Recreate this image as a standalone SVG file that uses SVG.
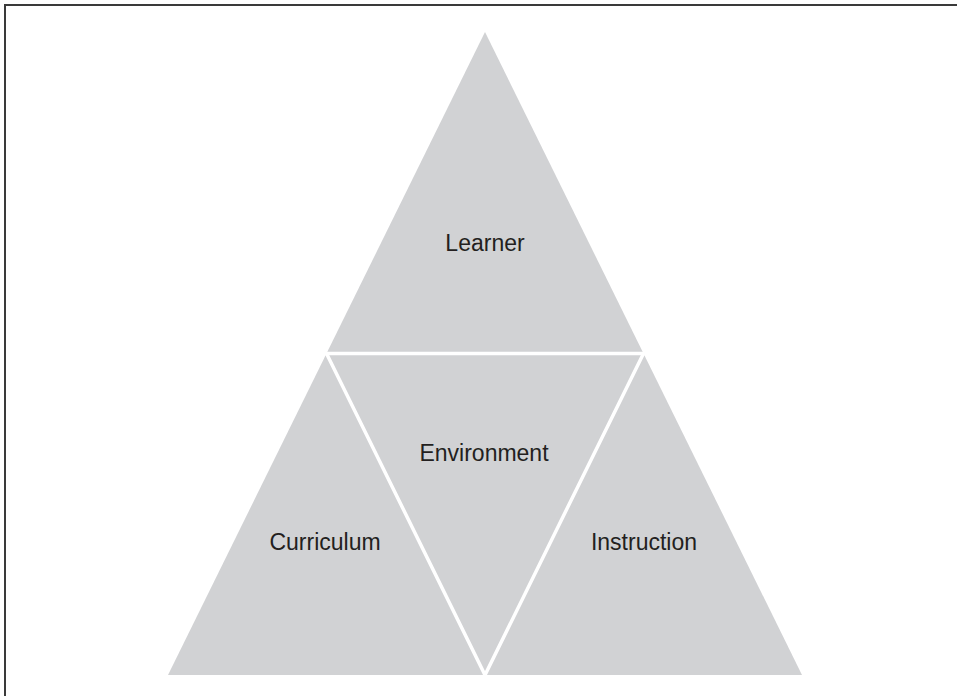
<svg xmlns="http://www.w3.org/2000/svg" width="957" height="696" viewBox="0 0 957 696">
<style>
.tri{fill:#d1d2d4;stroke:none}
.sep{stroke:#ffffff;stroke-width:3.5;fill:none;stroke-linecap:butt}
.lbl{font-family:"Liberation Sans",Arial,sans-serif;font-size:23px;fill:#231f20;text-anchor:middle}
.frame{stroke:#3a3a3a;stroke-width:2;fill:none}
</style>
<rect width="957" height="696" fill="#ffffff"/>
<path class="frame" d="M5,696 V5 H957"/>
<g id="learner">
<polygon class="tri" points="485,32 643.5,353.5 326.5,353.5"/>
<text class="lbl" x="485" y="251">Learner</text>
</g>
<g id="curriculum">
<polygon class="tri" points="326.5,353.5 485,675 168,675"/>
<text class="lbl" x="325" y="550">Curriculum</text>
</g>
<g id="instruction">
<polygon class="tri" points="643.5,353.5 802,675 485,675"/>
<text class="lbl" x="644" y="550">Instruction</text>
</g>
<g id="environment">
<polygon class="tri" points="326.5,353.5 643.5,353.5 485,675"/>
<text class="lbl" x="484" y="461">Environment</text>
</g>
<g id="connectors">
<path class="sep" d="M322,353.5 H648"/>
<path class="sep" d="M326.5,353.5 L485,675 L643.5,353.5"/>
</g>
</svg>
